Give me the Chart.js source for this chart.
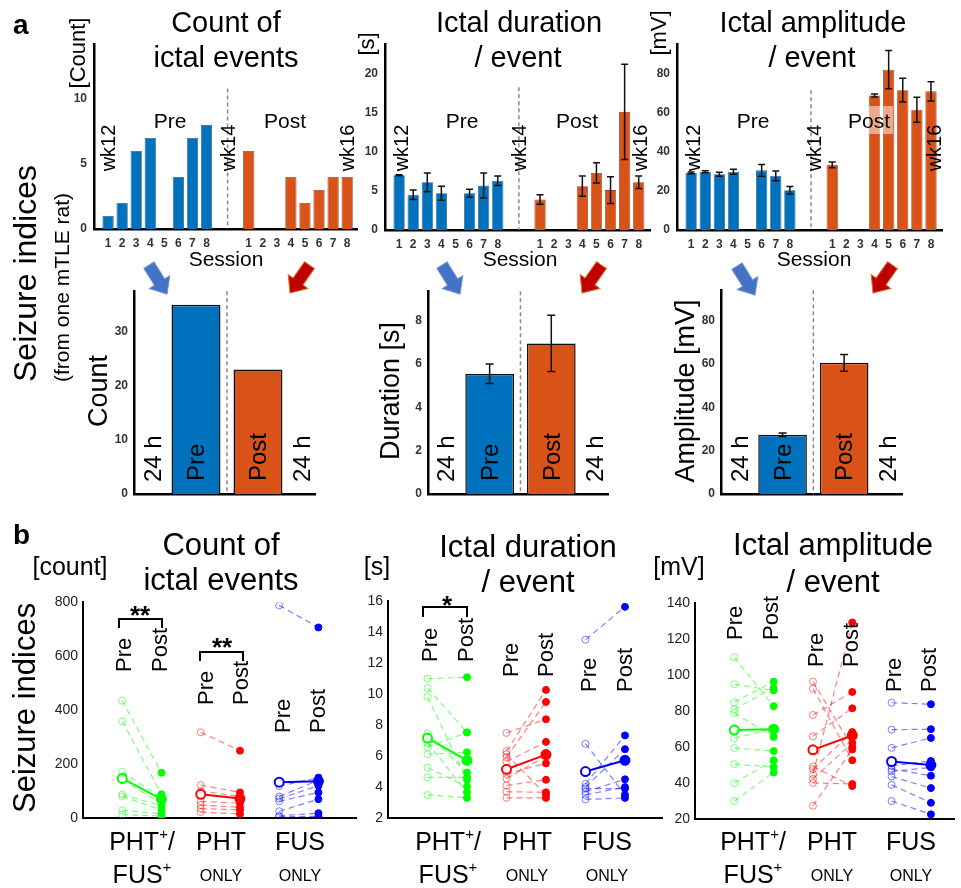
<!DOCTYPE html>
<html>
<head>
<meta charset="utf-8">
<script src="https://cdn.jsdelivr.net/npm/chart.js@4.4.0/dist/chart.umd.min.js"></script>
<style>
  body { margin: 0; background: #fff; font-family: Arial, "Liberation Sans", sans-serif; }
  #page { position: relative; width: 961px; height: 888px; overflow: hidden; background: #fff; }
  #page canvas { position: absolute; }
  .t { position: absolute; white-space: nowrap; line-height: 1; color: #000; }
  .sup { font-size: 0.6em; position: relative; top: -0.7em; }
</style>
</head>
<body>
<div id="page"></div>
<script>
// panel a: sessions before (wk12-14) and after (wk14-16)
const sessions = [1, 2, 3, 4, 5, 6, 7, 8];
const countPre = [1, 2, 6, 7, 0, 4, 7, 8];
const countPost = [6, 0, 0, 4, 2, 3, 4, 4];
const durPre = [7.0, 4.5, 6.1, 4.7, 0, 4.7, 5.7, 6.3];
const durPreErr = [0.05, 0.6, 1.2, 0.9, 0, 0.5, 1.6, 0.6];
const durPost = [3.9, 0, 0, 5.6, 7.3, 5.1, 15.1, 6.1];
const durPostErr = [0.6, 0, 0, 1.3, 1.3, 1.7, 6.1, 0.8];
const ampPre = [29.2, 29.8, 28.5, 29.8, 0, 30.5, 27.7, 20.3];
const ampPreErr = [0.5, 0.5, 1.0, 1.3, 0, 3.0, 2.5, 1.9];
const ampPost = [33.3, 0, 0, 68.8, 82.0, 71.5, 61.5, 70.9];
const ampPostErr = [1.5, 0, 0, 0.8, 9.8, 6.1, 6.4, 4.9];

// panel a: 24 h totals (pre, post)
const totCount = [35, 23];
const totDur = [5.55, 6.95];
const totDurErr = [0.45, 1.3];
const totAmp = [27.3, 60.5];
const totAmpErr = [0.8, 3.9];

// panel b: one value per rat, pre and post
const bothCountPre = [435, 359, 172, 140, 87, 80, 29, 12];
const bothCountPost = [168, 88, 75, 55, 45, 30, 15, 8];
const phtCountPre = [318, 122, 100, 62, 48, 35, 22];
const phtCountPost = [250, 95, 80, 55, 40, 30, 15];
const fusCountPre = [789, 118, 80, 72, 62, 25, 8, 5];
const fusCountPost = [707, 150, 140, 120, 95, 70, 18, 6];
const countMeanPre = [147, 88, 133];
const countMeanPost = [70, 72, 136];

const bothDurPre = [11.0, 10.4, 9.83, 7.47, 6.86, 6.58, 6.12, 5.26, 4.62, 3.49];
const bothDurPost = [11.1, 7.53, 4.48, 4.94, 3.66, 7.53, 6.25, 4.03, 4.62, 3.3];
const phtDurPre = [7.5, 6.32, 6.12, 5.93, 5.64, 4.85, 4.54, 4.1, 3.7, 3.3];
const phtDurPost = [8.38, 10.28, 3.5, 9.5, 6.92, 5.53, 6.0, 4.47, 3.66, 3.3];
const fusDurPre = [13.53, 6.8, 4.2, 4.0, 3.7, 3.5, 3.2, 3.9];
const fusDurPost = [15.65, 3.5, 7.34, 6.45, 4.5, 4.0, 3.3, 3.9];
const durMeanPre = [7.17, 5.15, 5.0];
const durMeanPost = [5.72, 6.1, 5.73];

const bothAmpPre = [110, 95, 85, 81, 79, 65, 59.5, 50.5, 40, 30];
const bothAmpPost = [82.8, 91.6, 96.5, 93, 65.7, 70.2, 57.8, 49, 52.7, 45.9];
const phtAmpPre = [96.5, 92.5, 77.9, 66, 49.2, 47.8, 45, 42.3, 40.1, 27.3];
const phtAmpPost = [60, 52.7, 90.7, 81.6, 38.3, 68.4, 129.4, 62.4, 39.5, 58.7];
const fusAmpPre = [84.7, 69.7, 59.6, 49.6, 47.8, 46.5, 43.6, 39, 30];
const fusAmpPost = [83.9, 70, 65.1, 52.3, 44.1, 48.7, 37.2, 29, 22.6];
const ampMeanPre = [69.5, 58.5, 52];
const ampMeanPost = [70, 66.5, 50];

const BLUE = '#0072BD', ORANGE = '#D95319';
const GREEN = ['#00FF00', 'rgba(0,255,0,0.5)'];
const RED = ['#FF0000', 'rgba(255,0,0,0.5)'];
const NAVY = ['#0000FF', 'rgba(0,0,255,0.5)'];

Chart.defaults.font.family = 'Arial, "Liberation Sans", sans-serif';
const page = document.getElementById('page');

// error bars drawn on top of bars
const errBars = {
  id: 'errBars',
  afterDatasetsDraw(chart, args, opts) {
    const ctx = chart.ctx, ys = chart.scales.y, cap = opts.cap || 3.5;
    chart.data.datasets.forEach((ds, di) => {
      if (!ds.errors) return;
      chart.getDatasetMeta(di).data.forEach((bar, i) => {
        const e = ds.errors[i];
        if (!e) return;
        const v = ds.data[i].y;
        const y1 = ys.getPixelForValue(v - e), y2 = ys.getPixelForValue(v + e);
        ctx.save();
        ctx.strokeStyle = '#111';
        ctx.lineWidth = 1.5;
        ctx.beginPath();
        ctx.moveTo(bar.x, y1); ctx.lineTo(bar.x, y2);
        ctx.moveTo(bar.x - cap, y1); ctx.lineTo(bar.x + cap, y1);
        ctx.moveTo(bar.x - cap, y2); ctx.lineTo(bar.x + cap, y2);
        ctx.stroke();
        ctx.restore();
      });
    });
  }
};

// dashed pre/post separator
const vLine = {
  id: 'vLine',
  beforeDatasetsDraw(chart, args, opts) {
    if (opts.x == null) return;
    const ctx = chart.ctx, x = chart.scales.x.getPixelForValue(opts.x);
    const top = chart.scales.y.getPixelForValue(opts.top);
    ctx.save();
    ctx.strokeStyle = '#8a8a8a';
    ctx.lineWidth = 1.5;
    ctx.setLineDash([4, 3]);
    ctx.beginPath();
    ctx.moveTo(x, top); ctx.lineTo(x, chart.chartArea.bottom);
    ctx.stroke();
    ctx.restore();
  }
};

const YW = 44, XH = 30, PT = 10, PR = 6;

function axis(o, horiz) {
  return {
    type: 'linear', min: o.min, max: o.max, offset: false,
    afterFit: s => { if (horiz) s.height = XH; else s.width = YW; },
    afterBuildTicks: s => { s.ticks = o.ticks.map(v => ({ value: v })); },
    grid: { display: false, drawTicks: false, offset: false },
    border: { color: '#000', width: o.bw || 2.5 },
    ticks: {
      display: o.show !== false, padding: o.pad || 6, color: o.color || '#333',
      font: o.font || { size: 12, weight: 'bold' }, autoSkip: false, maxRotation: 0,
      callback: o.cb || (v => v)
    }
  };
}

function makeChart(area, type, datasets, xo, yo, plug) {
  const cv = document.createElement('canvas');
  cv.width = area.r - area.l + YW + PR;
  cv.height = area.b - area.t + PT + XH;
  cv.style.left = (area.l - YW) + 'px';
  cv.style.top = (area.t - PT) + 'px';
  page.appendChild(cv);
  return new Chart(cv, {
    type: type,
    data: { datasets: datasets },
    options: {
      responsive: false, animation: false,
      layout: { padding: { top: PT, right: PR, left: 0, bottom: 0 } },
      plugins: Object.assign({ legend: { display: false }, tooltip: { enabled: false } }, plug || {}),
      scales: { x: axis(xo, true), y: axis(yo, false) }
    },
    plugins: [errBars, vLine]
  });
}

// ---- panel a, top row: per session
const sessTicks = sessions.concat(sessions.map(s => s + 10));
function sessionBars(pre, post, preErr, postErr) {
  const common = { grouped: false, barPercentage: 0.8, categoryPercentage: 1, borderWidth: 0.8 };
  return [
    Object.assign({ data: sessions.map((s, i) => ({ x: s, y: pre[i] })), errors: preErr,
      backgroundColor: BLUE, borderColor: '#2f5f88' }, common),
    Object.assign({ data: sessions.map((s, i) => ({ x: s + 10, y: post[i] })), errors: postErr,
      backgroundColor: ORANGE, borderColor: '#8a4a2a' }, common)
  ];
}
const sessX = (r) => ({ min: 0, max: r, ticks: sessTicks, pad: 7, cb: v => (v > 10 ? v - 10 : v) });

makeChart({ l: 94, r: 357, t: 40, b: 229 }, 'bar', sessionBars(countPre, countPost),
  sessX(18.7), { min: 0, max: 14.2, ticks: [0, 5, 10], pad: 7 },
  { vLine: { x: 9.5, top: 10.8 } });
makeChart({ l: 385, r: 650, t: 40, b: 230 }, 'bar', sessionBars(durPre, durPost, durPreErr, durPostErr),
  sessX(18.8), { min: 0, max: 23.75, ticks: [0, 5, 10, 15, 20], pad: 7 },
  { vLine: { x: 9.5, top: 18.25 }, errBars: { cap: 3.5 } });
makeChart({ l: 677, r: 942, t: 40, b: 230 }, 'bar', sessionBars(ampPre, ampPost, ampPreErr, ampPostErr),
  sessX(18.78), { min: 0, max: 95, ticks: [0, 20, 40, 60, 80], pad: 7 },
  { vLine: { x: 9.5, top: 71.5 }, errBars: { cap: 3.5 } });

// ---- panel a, middle row: 24 h totals
function totalBars(vals, errs) {
  const common = { grouped: false, barPercentage: 0.79, categoryPercentage: 1, borderWidth: 1.5, borderColor: '#111' };
  return [
    Object.assign({ data: [{ x: 1, y: vals[0] }], errors: errs && [errs[0]], backgroundColor: BLUE }, common),
    Object.assign({ data: [{ x: 2, y: vals[1] }], errors: errs && [errs[1]], backgroundColor: ORANGE }, common)
  ];
}
const totX = (r) => ({ min: 0, max: r, ticks: [1, 2], show: false });

makeChart({ l: 134, r: 315, t: 288, b: 494 }, 'bar', totalBars(totCount),
  totX(2.92), { min: 0, max: 37.5, ticks: [0, 10, 20, 30], pad: 6 },
  { vLine: { x: 1.5, top: 37.5 } });
makeChart({ l: 428, r: 608, t: 288, b: 494 }, 'bar', totalBars(totDur, totDurErr),
  totX(2.92), { min: 0, max: 9.36, ticks: [0, 2, 4, 6, 8], pad: 6 },
  { vLine: { x: 1.5, top: 9.36 }, errBars: { cap: 4 } });
makeChart({ l: 721, r: 902, t: 287, b: 494 }, 'bar', totalBars(totAmp, totAmpErr),
  totX(2.94), { min: 0, max: 94, ticks: [0, 20, 40, 60, 80], pad: 6 },
  { vLine: { x: 1.5, top: 94 }, errBars: { cap: 4 } });

// ---- panel b: paired pre/post per group
function pairSets(pre, post, x0, col) {
  return pre.map((v, i) => ({
    data: [{ x: x0, y: v }, { x: x0 + 1, y: post[i] }],
    borderColor: col[1], borderWidth: 1.2, borderDash: [6, 4],
    pointRadius: 3.5, pointBorderWidth: 1,
    pointBorderColor: [col[1], col[0]], pointBackgroundColor: ['rgba(0,0,0,0)', col[0]],
    order: 1
  }));
}
function meanSet(pre, post, x0, col) {
  return {
    data: [{ x: x0, y: pre }, { x: x0 + 1, y: post }],
    borderColor: col[0], borderWidth: 2, pointRadius: 4.5, pointBorderWidth: 2,
    pointBorderColor: col[0], pointBackgroundColor: ['#fff', col[0]], order: 0
  };
}
function groupSets(bPre, bPost, pPre, pPost, fPre, fPost, mPre, mPost) {
  return [].concat(
    pairSets(bPre, bPost, 1, GREEN), pairSets(pPre, pPost, 3, RED), pairSets(fPre, fPost, 5, NAVY),
    [meanSet(mPre[0], mPost[0], 1, GREEN), meanSet(mPre[1], mPost[1], 3, RED), meanSet(mPre[2], mPost[2], 5, NAVY)]
  );
}
const grpX = (r) => ({ min: 0, max: r, ticks: [1, 2, 3, 4, 5, 6], show: false, bw: 2 });
const grpFont = { size: 14, weight: 'normal' };

makeChart({ l: 83, r: 357, t: 599, b: 818 }, 'line',
  groupSets(bothCountPre, bothCountPost, phtCountPre, phtCountPost, fusCountPre, fusCountPost, countMeanPre, countMeanPost),
  grpX(6.97), { min: 0, max: 800, ticks: [0, 200, 400, 600, 800], pad: 5, bw: 2, font: grpFont, color: '#222' });
makeChart({ l: 388, r: 663, t: 598, b: 818 }, 'line',
  groupSets(bothDurPre, bothDurPost, phtDurPre, phtDurPost, fusDurPre, fusDurPost, durMeanPre, durMeanPost),
  grpX(6.95), { min: 2, max: 16, ticks: [2, 4, 6, 8, 10, 12, 14, 16], pad: 5, bw: 2, font: grpFont, color: '#222' });
makeChart({ l: 695, r: 955, t: 600, b: 819 }, 'line',
  groupSets(bothAmpPre, bothAmpPost, phtAmpPre, phtAmpPost, fusAmpPre, fusAmpPost, ampMeanPre, ampMeanPost),
  grpX(6.6), { min: 20, max: 140, ticks: [20, 40, 60, 80, 100, 120, 140], pad: 5, bw: 2, font: grpFont, color: '#222' });

// ---- overlay: arrows and significance brackets
const NS = 'http://www.w3.org/2000/svg';
const svg = document.createElementNS(NS, 'svg');
svg.setAttribute('width', 961); svg.setAttribute('height', 888);
svg.style.position = 'absolute'; svg.style.left = '0'; svg.style.top = '0';
page.appendChild(svg);
function arrow(x, y, ang, fill, edge) {
  const p = document.createElementNS(NS, 'polygon');
  p.setAttribute('points', '0,0 -14,-12 -14,-6 -34,-6 -34,6 -14,6 -14,12');
  p.setAttribute('transform', `translate(${x},${y}) rotate(${ang})`);
  p.setAttribute('fill', fill); p.setAttribute('stroke', edge); p.setAttribute('stroke-width', 1);
  svg.appendChild(p);
}
[[167, 294], [460, 294], [755, 295]].forEach(([x, y]) => arrow(x, y, 58, '#4472C4', '#6a8fd6'));
[[290, 293], [582, 293], [873, 293]].forEach(([x, y]) => arrow(x, y, 125, '#C00000', '#d0702a'));
function bracket(x1, x2, top, leg) {
  const p = document.createElementNS(NS, 'path');
  p.setAttribute('d', `M${x1},${leg} V${top} H${x2} V${leg}`);
  p.setAttribute('fill', 'none'); p.setAttribute('stroke', '#000'); p.setAttribute('stroke-width', 2);
  svg.appendChild(p);
}
bracket(119, 162, 619, 628);
bracket(200, 243, 652, 661);
bracket(423, 467, 607, 617);

// ---- text
function text(s, x, base, size, o) {
  o = o || {};
  const d = document.createElement('div');
  d.className = 't';
  d.innerHTML = s;
  d.style.fontSize = size + 'px';
  if (o.bold) d.style.fontWeight = 'bold';
  d.style.left = x + 'px';
  d.style.top = (base - 0.8465 * size) + 'px';
  if (!o.left) d.style.transform = 'translateX(-50%)';
  page.appendChild(d);
  return d;
}
function vtext(s, x, bottom, size) {
  const d = document.createElement('div');
  d.className = 't';
  d.innerHTML = s;
  d.style.fontSize = size + 'px';
  d.style.left = x + 'px';
  d.style.top = bottom + 'px';
  d.style.transformOrigin = '0 0';
  d.style.transform = 'rotate(-90deg) translateY(-50%)';
  page.appendChild(d);
}
function vctext(s, x, y, size) {
  const d = document.createElement('div');
  d.className = 't';
  d.innerHTML = s;
  d.style.fontSize = size + 'px';
  d.style.left = x + 'px';
  d.style.top = y + 'px';
  d.style.transform = 'translate(-50%,-50%) rotate(-90deg)';
  page.appendChild(d);
}

// pale box behind "Post" on the amplitude panel
const hl = document.createElement('div');
Object.assign(hl.style, { position: 'absolute', left: '869px', top: '106px', width: '24px', height: '28px', background: 'rgba(255,255,255,0.5)' });
page.appendChild(hl);

text('a', 13, 35, 28, { bold: true, left: true });
text('b', 13, 545, 28, { bold: true, left: true });

text('Count of', 226, 33, 29); text('ictal events', 226, 68, 29);
text('Ictal duration', 519, 33, 29); text('/ event', 518, 68, 29);
text('Ictal amplitude', 813, 33, 29); text('/ event', 812, 68, 29);
vctext('[Count]', 78, 53, 22); vctext('[s]', 367, 44, 22); vctext('[mV]', 659, 33, 22);
[[170, 285], [462, 577], [753, 869]].forEach(([a, b]) => { text('Pre', a, 128, 21); text('Post', b, 128, 21); });
[[108, 228, 347], [401, 519, 640], [693, 814, 934]].forEach(xs => {
  vctext('wk12', xs[0], 148, 20); vctext('wk14', xs[1], 148, 20); vctext('wk16', xs[2], 148, 20);
});
[226, 520, 814].forEach(x => text('Session', x, 266, 21));

vtext('Seizure indices', 25, 382, 32);
vtext('(from one mTLE rat)', 61, 382, 21);

vctext('Count', 98, 391, 27); vctext('Duration [s]', 390, 391, 27); vctext('Amplitude [mV]', 685, 391, 27);
[153, 302, 446, 595, 740, 888].forEach(x => vtext('24 h', x, 482, 24));
[196, 490, 783].forEach(x => vtext('Pre', x, 481, 24));
[258, 552, 844].forEach(x => vtext('Post', x, 481, 24));

text('Count of', 221, 555, 31); text('ictal events', 221, 590, 31);
text('Ictal duration', 528, 557, 31); text('/ event', 528, 592, 31);
text('Ictal amplitude', 833, 555, 31); text('/ event', 833, 592, 31);
text('[count]', 70, 575, 25); text('[s]', 377, 575, 25); text('[mV]', 679, 575, 25);
vtext('Seizure indices', 24, 813, 31);

const prePost = [
  [124, 160, 672], [206, 241, 705], [283, 318, 733],
  [430, 466, 662], [511, 546, 677], [589, 625, 692],
  [735, 771, 640], [816, 851, 667], [894, 929, 692]
];
prePost.forEach(([a, b, y]) => { vtext('Pre', a, y, 22); vtext('Post', b, y, 22); });

text('**', 140, 624, 26, { bold: true });
text('**', 222, 656, 26, { bold: true });
text('*', 447, 614, 26, { bold: true });

[[142, 221, 300], [448, 527, 607], [753, 832, 911]].forEach(([g1, g2, g3]) => {
  text('PHT<span class="sup">+</span>/', g1, 850, 25);
  text('FUS<span class="sup">+</span>', g1, 883, 25);
  text('PHT', g2, 850, 25); text('ONLY', g2, 882, 16);
  text('FUS', g3, 850, 25); text('ONLY', g3, 882, 16);
});
</script>
</body>
</html>
